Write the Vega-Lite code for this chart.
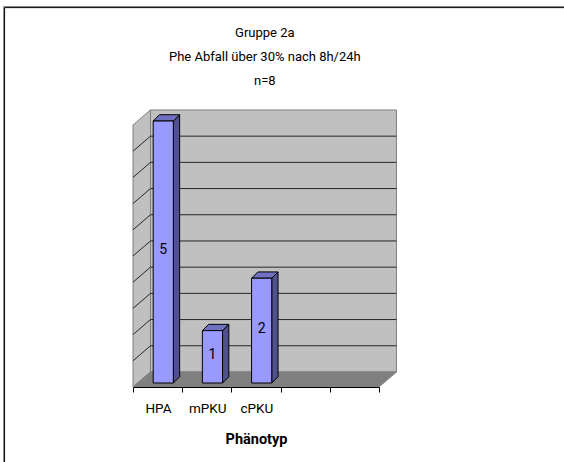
{
  "$schema": "https://vega.github.io/schema/vega-lite/v6.json",
  "width": 246,
  "height": 262,
  "autosize": "none",
  "padding": {"left": 133, "top": 125, "right": 185, "bottom": 75},
  "background": "white",
  "config": {"font": "Roboto", "view": {"stroke": null}},
  "datasets": {
    "phenotypes": [
      {"phenotyp": "HPA", "n": 5},
      {"phenotyp": "mPKU", "n": 1},
      {"phenotyp": "cPKU", "n": 2}
    ],
    "levels": [
      {"level": 0.5}, {"level": 1}, {"level": 1.5}, {"level": 2}, {"level": 2.5},
      {"level": 3}, {"level": 3.5}, {"level": 4}, {"level": 4.5}
    ],
    "depths": [{"depth": 0}, {"depth": 1}],
    "single": [{}]
  },
  "layer": [
    {
      "data": {"name": "single"},
      "layer": [
        {
          "mark": {"type": "rule", "color": "#808080", "strokeWidth": 1},
          "encoding": {
            "x": {"datum": -2.63, "type": "quantitative", "scale": {"domain": [0, 5], "nice": false}},
            "x2": {"datum": 8.76},
            "y": {"datum": 7.26, "type": "quantitative", "scale": {"domain": [0, 5], "nice": false}, "axis": null}
          }
        },
        {
          "mark": {"type": "rule", "color": "#808080", "strokeWidth": 1},
          "encoding": {
            "x": {"datum": -2.63, "type": "quantitative", "scale": {"domain": [0, 5], "nice": false}},
            "y": {"datum": 7.26, "type": "quantitative", "scale": {"domain": [0, 5], "nice": false}, "axis": null},
            "y2": {"datum": -1.44}
          }
        },
        {
          "mark": {"type": "rule", "color": "#000000", "strokeWidth": 1},
          "encoding": {
            "x": {"datum": -2.61, "type": "quantitative", "scale": {"domain": [0, 5], "nice": false}},
            "x2": {"datum": 8.76},
            "y": {"datum": 7.24, "type": "quantitative", "scale": {"domain": [0, 5], "nice": false}, "axis": null}
          }
        },
        {
          "mark": {"type": "rule", "color": "#000000", "strokeWidth": 1},
          "encoding": {
            "x": {"datum": -2.61, "type": "quantitative", "scale": {"domain": [0, 5], "nice": false}},
            "y": {"datum": 7.24, "type": "quantitative", "scale": {"domain": [0, 5], "nice": false}, "axis": null},
            "y2": {"datum": -1.44}
          }
        },
        {
          "mark": {"type": "text", "text": ["Gruppe 2a", "Phe Abfall über 30% nach 8h/24h", "n=8"], "lineHeight": 24, "fontSize": 13, "color": "#000000", "align": "center", "baseline": "middle"},
          "encoding": {
            "x": {"datum": 2.68, "type": "quantitative", "scale": {"domain": [0, 5], "nice": false}},
            "y": {"datum": 6.756, "type": "quantitative", "scale": {"domain": [0, 5], "nice": false}, "axis": null}
          }
        },
        {
          "mark": {"type": "rect", "fill": "#C0C0C0", "stroke": "#808080", "strokeWidth": 1},
          "encoding": {
            "x": {"datum": 0.355, "type": "quantitative", "scale": {"domain": [0, 5], "nice": false}},
            "x2": {"datum": 5.355},
            "y": {"datum": 0.287, "type": "quantitative", "scale": {"domain": [0, 5], "nice": false}, "axis": null},
            "y2": {"datum": 5.287}
          }
        }
      ]
    },
    {
      "data": {"name": "depths"},
      "transform": [
        {"calculate": "datum.depth * 0.355", "as": "wx"},
        {"calculate": "datum.depth * 0.287", "as": "wy"},
        {"calculate": "datum.wy + 5", "as": "wyTop"},
        {"calculate": "datum.wx + 5", "as": "wxEnd"}
      ],
      "layer": [
        {
          "mark": {"type": "area", "fill": "#C0C0C0", "stroke": "#808080", "strokeWidth": 1},
          "encoding": {
            "x": {"field": "wx", "type": "quantitative", "scale": {"domain": [0, 5], "nice": false}},
            "y": {"field": "wy", "type": "quantitative", "scale": {"domain": [0, 5], "nice": false}, "axis": null},
            "y2": {"field": "wyTop"}
          }
        },
        {
          "mark": {"type": "area", "orient": "horizontal", "fill": "#808080", "stroke": "#808080", "strokeWidth": 1},
          "encoding": {
            "y": {"field": "wy", "type": "quantitative", "scale": {"domain": [0, 5], "nice": false}, "axis": null},
            "x": {"field": "wx", "type": "quantitative", "scale": {"domain": [0, 5], "nice": false}},
            "x2": {"field": "wxEnd"}
          }
        }
      ]
    },
    {
      "data": {"name": "levels"},
      "transform": [
        {"calculate": "datum.level + 0.287", "as": "backLevel"}
      ],
      "layer": [
        {
          "mark": {"type": "rule", "color": "#262626", "strokeWidth": 1},
          "encoding": {
            "x": {"datum": 0.355, "type": "quantitative", "scale": {"domain": [0, 5], "nice": false}},
            "x2": {"datum": 5.355},
            "y": {"field": "backLevel", "type": "quantitative", "scale": {"domain": [0, 5], "nice": false}, "axis": null}
          }
        },
        {
          "mark": {"type": "rule", "color": "#262626", "strokeWidth": 1},
          "encoding": {
            "x": {"datum": 0, "type": "quantitative", "scale": {"domain": [0, 5], "nice": false}},
            "x2": {"datum": 0.355},
            "y": {"field": "level", "type": "quantitative", "scale": {"domain": [0, 5], "nice": false}, "axis": null},
            "y2": {"field": "backLevel"}
          }
        }
      ]
    },
    {
      "data": {"name": "phenotypes"},
      "transform": [
        {"calculate": "indexof(['HPA','mPKU','cPKU'], datum.phenotyp) + 0.41", "as": "left"},
        {"calculate": "datum.left + 0.41", "as": "right"},
        {"calculate": "datum.left + 0.205", "as": "center"},
        {"calculate": "0.076", "as": "base"},
        {"calculate": "datum.base + datum.n", "as": "top"},
        {"calculate": "datum.base + datum.n / 2", "as": "middle"},
        {"calculate": "[0, 1]", "as": "depth"},
        {"flatten": ["depth"]},
        {"calculate": "datum.right + datum.depth * 0.128", "as": "sideX"},
        {"calculate": "datum.base + datum.depth * 0.12", "as": "sideLow"},
        {"calculate": "datum.top + datum.depth * 0.12", "as": "sideHigh"},
        {"calculate": "datum.left + datum.depth * 0.128", "as": "capLeft"}
      ],
      "layer": [
        {
          "mark": {"type": "area", "fill": "#50508C", "stroke": "#000000", "strokeWidth": 1},
          "encoding": {
            "detail": {"field": "phenotyp"},
            "x": {"field": "sideX", "type": "quantitative", "scale": {"domain": [0, 5], "nice": false}},
            "y": {"field": "sideLow", "type": "quantitative", "scale": {"domain": [0, 5], "nice": false}, "axis": null},
            "y2": {"field": "sideHigh"}
          }
        },
        {
          "mark": {"type": "area", "orient": "horizontal", "fill": "#7070C0", "stroke": "#000000", "strokeWidth": 1},
          "encoding": {
            "detail": {"field": "phenotyp"},
            "y": {"field": "sideHigh", "type": "quantitative", "scale": {"domain": [0, 5], "nice": false}, "axis": null},
            "x": {"field": "capLeft", "type": "quantitative", "scale": {"domain": [0, 5], "nice": false}},
            "x2": {"field": "sideX"}
          }
        },
        {
          "transform": [{"filter": "datum.depth === 0"}],
          "layer": [
            {
              "mark": {"type": "rect", "fill": "#9999FF", "stroke": "#000000", "strokeWidth": 1},
              "encoding": {
                "x": {"field": "left", "type": "quantitative", "scale": {"domain": [0, 5], "nice": false}},
                "x2": {"field": "right"},
                "y": {"field": "base", "type": "quantitative", "scale": {"domain": [0, 5], "nice": false}, "axis": null},
                "y2": {"field": "top"}
              }
            },
            {
              "mark": {"type": "text", "fontSize": 14, "color": "#000000", "align": "center", "baseline": "middle", "dy": -2},
              "encoding": {
                "x": {"field": "center", "type": "quantitative", "scale": {"domain": [0, 5], "nice": false}},
                "y": {"field": "middle", "type": "quantitative", "scale": {"domain": [0, 5], "nice": false}, "axis": null},
                "text": {"field": "n", "type": "quantitative"}
              }
            }
          ]
        }
      ]
    },
    {
      "data": {"name": "single"},
      "mark": {"type": "rule", "opacity": 0},
      "encoding": {
        "x": {
          "datum": 0,
          "type": "quantitative",
          "scale": {"domain": [0, 5], "nice": false},
          "axis": {
            "title": "Phänotyp",
            "titleFontSize": 14.5,
            "titleFontWeight": "bold",
            "titleColor": "#000000",
            "titlePadding": 18,
            "values": [0, 1, 2, 3, 4, 5],
            "labelExpr": "['HPA', 'mPKU', 'cPKU', '', '', ''][datum.value]",
            "labelOffset": 25,
            "labelAngle": 0,
            "labelFontSize": 13.5,
            "labelColor": "#000000",
            "labelPadding": 9,
            "labelFlush": false,
            "labelOverlap": false,
            "tickSize": 5,
            "tickColor": "#000000",
            "domainColor": "#000000",
            "grid": false,
            "zindex": 1
          }
        },
        "y": {"datum": 0, "type": "quantitative", "scale": {"domain": [0, 5], "nice": false}, "axis": null}
      }
    }
  ]
}
